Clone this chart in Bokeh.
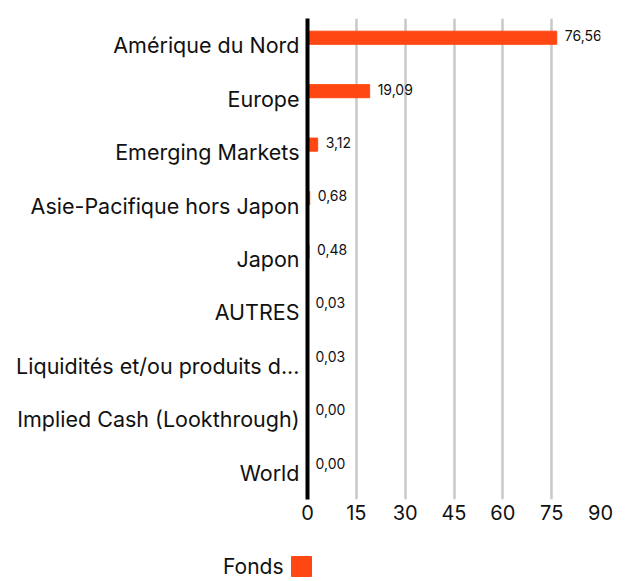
from bokeh.plotting import figure
from bokeh.models import FactorRange, Range1d, ColumnDataSource
from bokeh.transform import dodge
from bokeh.layouts import column
from bokeh.core.properties import value
from bokeh.embed import file_html
from bokeh.resources import INLINE

categories = [
    "Amérique du Nord",
    "Europe",
    "Emerging Markets",
    "Asie-Pacifique hors Japon",
    "Japon",
    "AUTRES",
    "Liquidités et/ou produits d...",
    "Implied Cash (Lookthrough)",
    "World",
]
values = [76.56, 19.09, 3.12, 0.68, 0.48, 0.03, 0.03, 0.00, 0.00]
series_name = "Fonds"
x_ticks = [0, 15, 30, 45, 60, 75, 90]

FONT = "Inter"
BAR_COLOR = "#ff4713"
TEXT_COLOR = "#111111"

labels = [f"{v:.2f}".replace(".", ",") for v in values]
src = ColumnDataSource(dict(cat=categories, val=values, lbl=labels))

p = figure(
    y_range=FactorRange(*reversed(categories), range_padding=0),
    x_range=Range1d(0, 90),
    width=630, height=540,
    output_backend="svg", toolbar_location=None,
    min_border_left=307, min_border_right=30,
    min_border_top=18, min_border_bottom=41,
)
p.outline_line_color = None
p.background_fill_color = "white"
p.border_fill_color = "white"

p.ygrid.grid_line_color = None
p.xgrid.grid_line_color = "#c8c8c8"
p.xgrid.grid_line_width = 2.5
p.xgrid.ticker = x_ticks

p.xaxis.ticker = x_ticks
p.xaxis.axis_line_color = None
p.xaxis.major_tick_line_color = None
p.xaxis.minor_tick_line_color = None
p.xaxis.major_tick_out = 0
p.xaxis.minor_tick_out = 0
p.xaxis.major_label_text_font = FONT
p.xaxis.major_label_text_font_size = "20px"
p.xaxis.major_label_text_color = TEXT_COLOR
p.xaxis.major_label_standoff = 5

p.yaxis.axis_line_color = "black"
p.yaxis.axis_line_width = 4
p.yaxis.major_tick_line_color = None
p.yaxis.minor_tick_line_color = None
p.yaxis.major_label_text_font = FONT
p.yaxis.major_label_text_font_size = "21.5px"
p.yaxis.major_label_text_color = TEXT_COLOR
p.yaxis.major_label_standoff = 2

p.hbar(y=dodge("cat", 0.14, range=p.y_range), left=0, right="val", height=0.245,
       color=BAR_COLOR, source=src)
p.text(x="val", y=dodge("cat", 0.18, range=p.y_range), text="lbl", x_offset=8,
       text_font=value(FONT), text_font_size="14px", text_baseline="middle",
       text_color=TEXT_COLOR, source=src)

# legend strip: series name followed by its colour swatch (pixel coordinates)
lf = figure(width=630, height=41, x_range=Range1d(0, 630), y_range=Range1d(0, 41),
            x_axis_location=None, y_axis_location=None,
            output_backend="svg", toolbar_location=None, min_border=0)
lf.grid.visible = False
lf.outline_line_color = None
lf.text(x=[283], y=[15], text=[series_name], text_align="right", text_baseline="middle",
        text_font=value(FONT), text_font_size="21px", text_color=TEXT_COLOR)
lf.rect(x=[301], y=[15], width=20, height=20, color=BAR_COLOR)

for fig in (p, lf):
    if "frame_align" in fig.properties():
        fig.frame_align = False

layout = column(p, lf, spacing=0)
open("out.html", "w").write(file_html(layout, INLINE))
